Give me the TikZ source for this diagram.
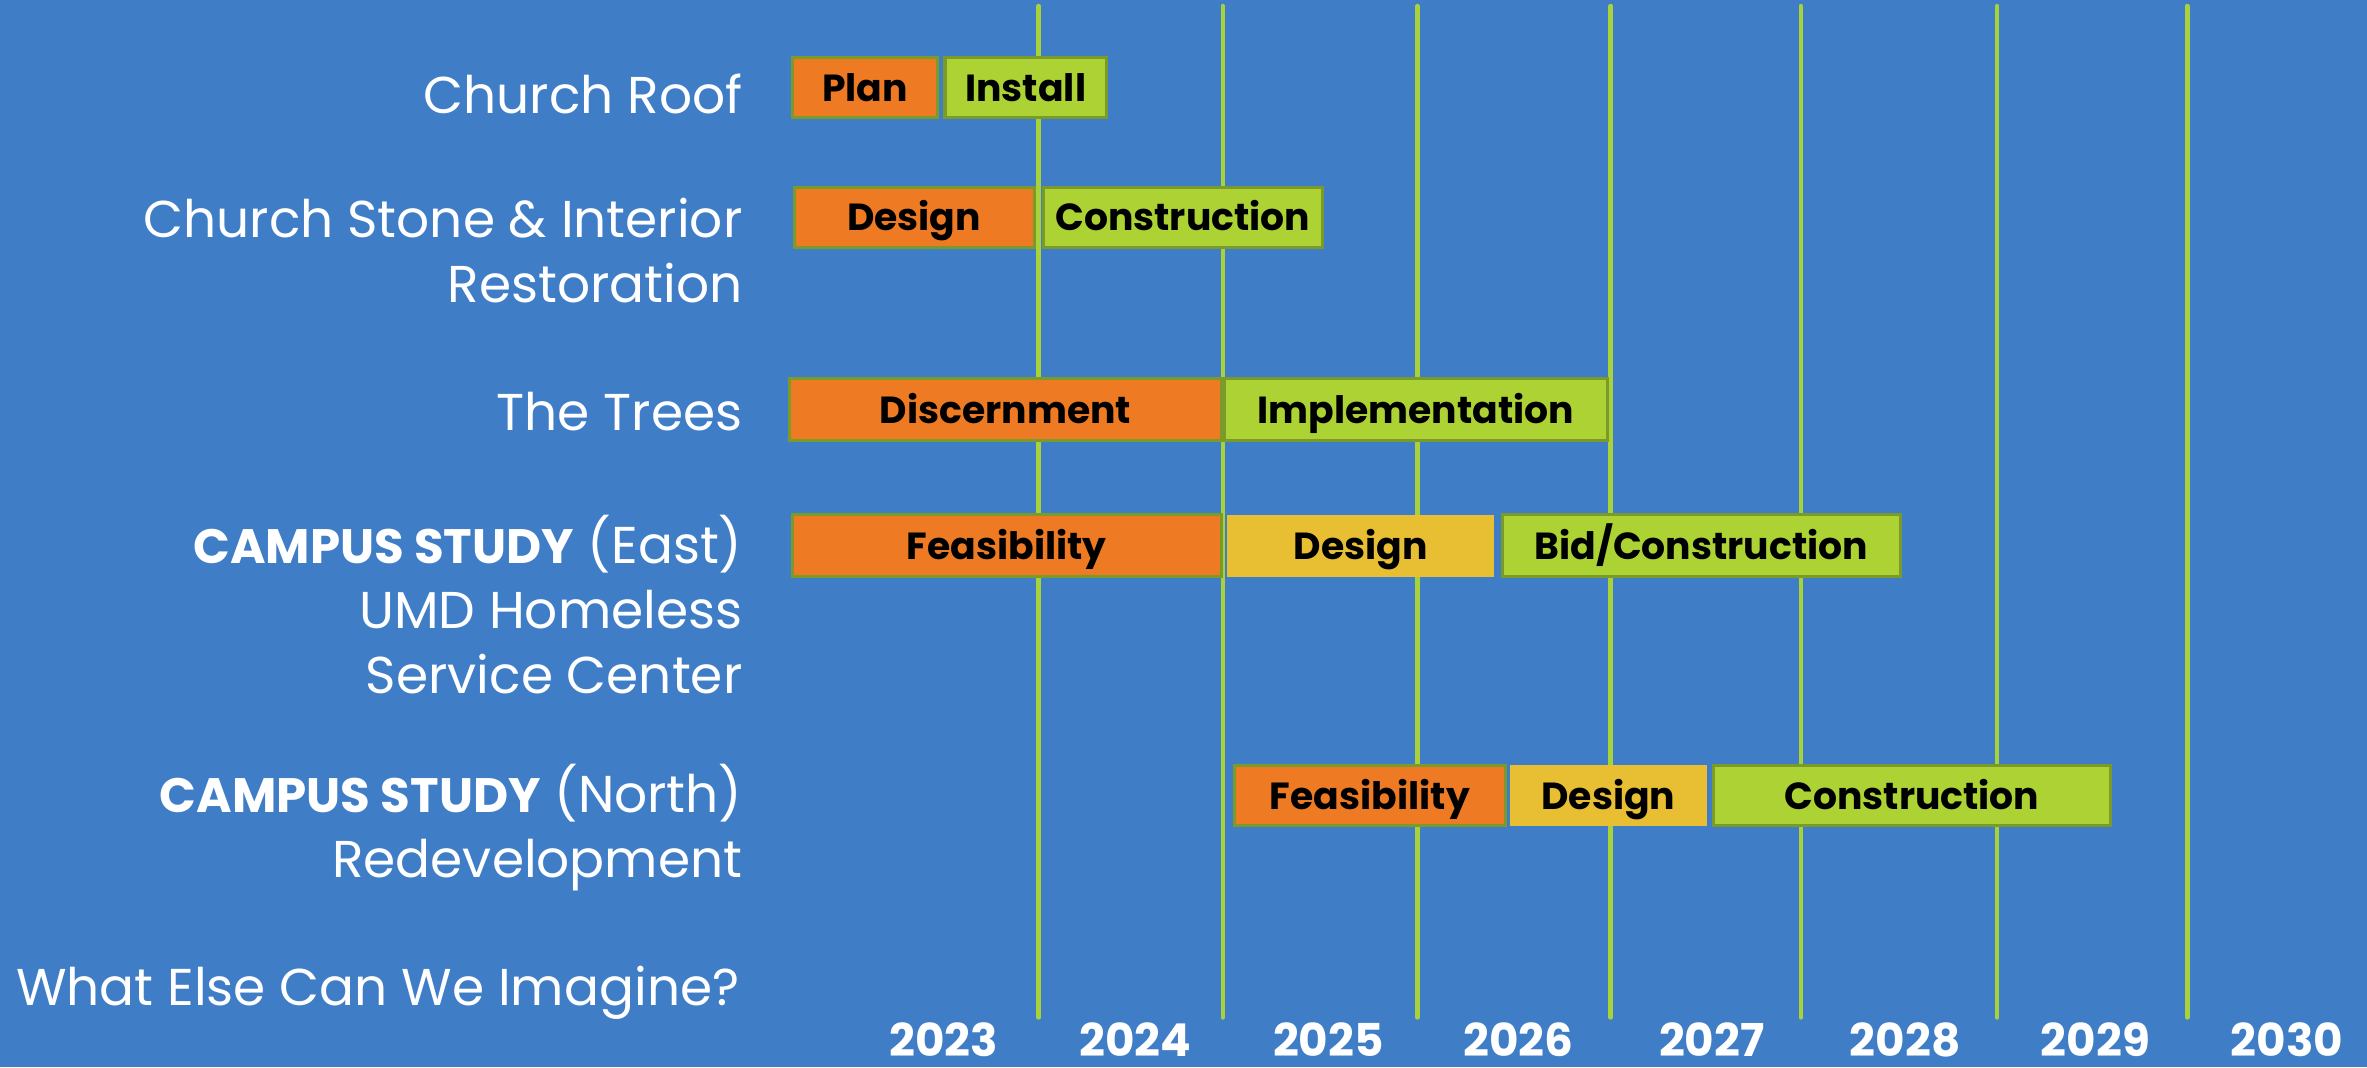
\documentclass[tikz,border=0pt]{standalone}
\usepackage{fontspec}
\setmainfont{Poppins}
\definecolor{bgblue}{HTML}{3F7EC7}
\definecolor{gline}{HTML}{A9D13A}
\definecolor{borange}{HTML}{EE7B23}
\definecolor{bgreen}{HTML}{ACD333}
\definecolor{byellow}{HTML}{E8BF32}
\definecolor{bborder}{HTML}{7A9B2A}
\newcommand{\lbold}[1]{{\fontsize{32}{43}\selectfont\bfseries #1}}
\begin{document}
\begin{tikzpicture}[x=1pt,y=-1pt,
  bar/.style={rectangle,draw=bborder,line width=2pt,inner sep=0pt,anchor=north west,
    text height=18pt,text depth=0pt,
    font=\fontsize{25}{30}\selectfont\bfseries,text=black},
  nobar/.style={bar,draw=none},
  rowlabel/.style={anchor=base east,align=right,text=white,inner sep=0pt,
    font=\fontsize{34.3}{43}\selectfont},
  yearlabel/.style={anchor=base,text=white,inner sep=0pt,text depth=0pt,font=\fontsize{30}{36}\selectfont\bfseries},
  gridline/.style={draw=gline,line width=3pt,line cap=round}]
\fill[bgblue] (0,0) rectangle (1568,707);
\useasboundingbox (0,0) rectangle (1568,707);
% grid lines
\foreach \i/\x in {1/688,2/810,3/939,4/1067,5/1193,6/1323,7/1449}{
  \coordinate (gt\i) at (\x,4);
  \coordinate (gb\i) at (\x,674);
  \draw[gridline] (gt\i) -- (gb\i);
}
% row labels
\node[rowlabel] (l1) at (492,75) {Church Roof};
\node[rowlabel,anchor=north east] (l2) at (492,131) {Church Stone \& Interior\\Restoration};
\node[rowlabel] (l3) at (492,285) {The Trees};
\node[rowlabel,anchor=north east] (l4) at (492,341) {\lbold{CAMPUS STUDY} (East)\\UMD Homeless\\Service Center};
\node[rowlabel,anchor=north east] (l5) at (492,506) {\lbold{CAMPUS STUDY} (North)\\Redevelopment};
\node[rowlabel] (l6) at (490,666) {What Else Can We Imagine?};
% bars row 1
\node[bar,fill=borange,minimum width=96,minimum height=40] (plan) at (524,37) {Plan};
\node[bar,fill=bgreen,minimum width=107,minimum height=40] (install) at (625,37) {Install};
% row 2
\node[bar,fill=borange,minimum width=159,minimum height=40] (design2) at (525,123) {Design};
\node[bar,fill=bgreen,minimum width=185,minimum height=40] (constr2) at (690,123) {Construction};
% row 3
\node[bar,fill=borange,minimum width=286,minimum height=41] (discern) at (522,250) {Discernment};
\node[bar,fill=bgreen,minimum width=254,minimum height=41] (impl) at (810,250) {Implementation};
% row 4
\node[bar,fill=borange,minimum width=284,minimum height=41] (feas4) at (524,340) {Feasibility};
\node[nobar,fill=byellow,minimum width=177,minimum height=41] (design4) at (812,340) {Design};
\node[bar,fill=bgreen,minimum width=264,minimum height=41] (bid4) at (994,340) {Bid/Construction};
% row 5
\node[bar,fill=borange,minimum width=179,minimum height=40] (feas5) at (817,506) {Feasibility};
\node[nobar,fill=byellow,minimum width=131,minimum height=40] (design5) at (999,506) {Design};
\node[bar,fill=bgreen,minimum width=263,minimum height=40] (constr5) at (1134,506) {Construction};
% years
\foreach \yr/\x in {2023/625,2024/752,2025/880,2026/1006,2027/1134,2028/1262,2029/1388,2030/1515}{
  \node[yearlabel] (y\yr) at (\x,700) {\yr};
}
\end{tikzpicture}
\end{document}
